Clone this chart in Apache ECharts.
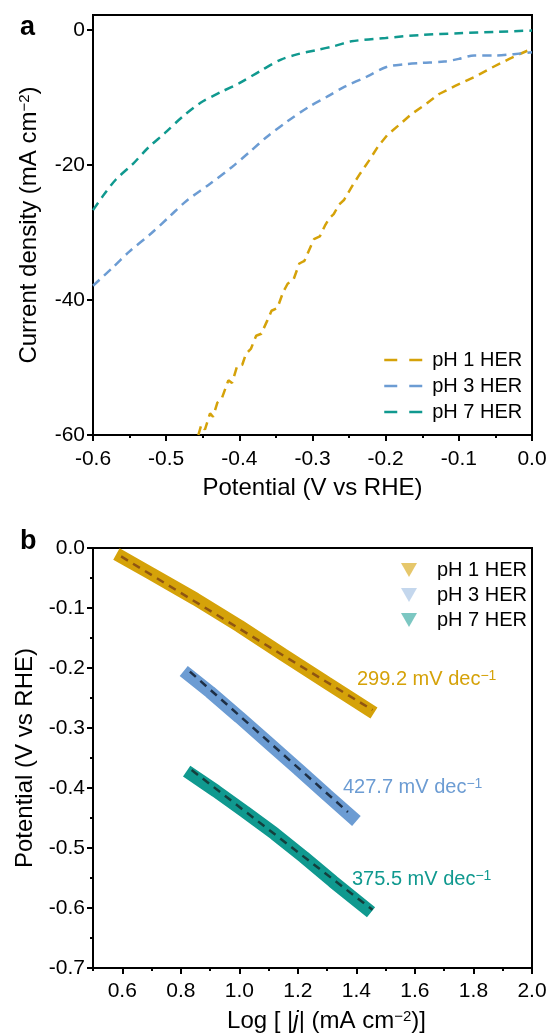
<!DOCTYPE html>
<html>
<head>
<meta charset="utf-8">
<script src="https://cdn.jsdelivr.net/npm/echarts@6/dist/echarts.min.js"></script>
<style>
html,body{margin:0;padding:0;background:#fff;}
#chart{width:552px;height:1036px;}
</style>
</head>
<body>
<div id="chart"></div>
<script>
// ---------- Panel a: LSV curves ----------
const lsvPH1X = [-0.456,-0.452,-0.447,-0.440,-0.436,-0.430,-0.424,-0.415,-0.410,-0.403,-0.396,-0.391,-0.384,-0.377,-0.370,-0.362,-0.356,-0.348,-0.340,-0.334,-0.326,-0.318,-0.311,-0.305,-0.298,-0.290,-0.283,-0.277,-0.271,-0.264,-0.257,-0.245,-0.235,-0.223,-0.210,-0.198,-0.184,-0.165,-0.145,-0.127,-0.105,-0.079,-0.055,-0.031,-0.015,0.000];
const lsvPH1Y = [-60.0,-58.5,-59.2,-56.8,-57.3,-55.2,-54.6,-51.9,-52.3,-49.8,-49.6,-48.0,-47.2,-45.3,-45.0,-43.1,-41.6,-41.2,-38.8,-37.6,-37.0,-34.6,-34.2,-32.7,-31.0,-30.6,-29.0,-27.9,-27.3,-25.9,-25.2,-23.0,-21.3,-19.4,-17.2,-15.6,-14.3,-12.5,-11.0,-9.5,-8.3,-7.0,-5.6,-4.3,-3.5,-2.8];
const lsvPH3X = [-0.600,-0.575,-0.550,-0.521,-0.495,-0.472,-0.440,-0.410,-0.385,-0.363,-0.335,-0.305,-0.280,-0.256,-0.225,-0.199,-0.175,-0.151,-0.120,-0.100,-0.079,-0.050,-0.025,0.000];
const lsvPH3Y = [-37.9,-35.4,-32.8,-30.2,-27.6,-25.3,-22.8,-20.3,-18.0,-15.9,-13.6,-11.4,-9.9,-8.4,-6.9,-5.5,-5.1,-4.9,-4.7,-4.3,-3.8,-3.8,-3.6,-3.3];
const lsvPH7X = [-0.600,-0.585,-0.569,-0.545,-0.525,-0.502,-0.478,-0.453,-0.425,-0.400,-0.370,-0.343,-0.320,-0.295,-0.270,-0.247,-0.200,-0.151,-0.100,-0.050,0.000];
const lsvPH7Y = [-26.7,-24.4,-22.2,-19.8,-17.5,-15.3,-12.9,-10.8,-9.2,-7.9,-6.0,-4.4,-3.6,-3.0,-2.4,-1.7,-1.2,-0.75,-0.5,-0.3,-0.1];

// ---------- Panel b: Tafel plots ----------
const tafelPH1X = [0.58,0.70,0.85,1.00,1.15,1.30,1.46];
const tafelPH1Y = [-0.010,-0.043,-0.085,-0.130,-0.178,-0.225,-0.275];
const tafelPH3X = [0.81,0.90,1.00,1.10,1.20,1.30,1.40];
const tafelPH3Y = [-0.205,-0.240,-0.282,-0.325,-0.368,-0.412,-0.455];
const tafelPH7X = [0.82,0.92,1.02,1.12,1.22,1.32,1.45];
const tafelPH7Y = [-0.372,-0.405,-0.440,-0.476,-0.515,-0.556,-0.607];
const fitPH1X = [0.596,1.455]; const fitPH1Y = [-0.014,-0.270];
const fitPH3X = [0.831,1.371]; const fitPH3Y = [-0.206,-0.440];
const fitPH7X = [0.837,1.455]; const fitPH7Y = [-0.370,-0.603];

const seriesNames = ['pH 1 HER','pH 3 HER','pH 7 HER'];
const slopeLabels = ['299.2 mV dec','427.7 mV dec','375.5 mV dec'];

const yTicksA = [-60,-40,-20,0];
const xTicksB = [0.6,0.8,1.0,1.2,1.4,1.6,1.8,2.0];
const xMinorB = [0.5,0.7,0.9,1.1,1.3,1.5,1.7,1.9];

const C_GOLD = '#D5A209', C_BLUE = '#6C9CD3', C_TEAL = '#10998F';
const F = 'Liberation Sans, Arial, Helvetica, sans-serif';
const zip = (xs, ys) => xs.map((x, i) => [x, ys[i]]);

const axisLine = {show:true, onZero:false, lineStyle:{color:'#000', width:2}};
const tickStyle = {color:'#000', width:2};
const labelStyle = {fontSize:21, color:'#000', fontFamily:F};
const nameStyle = {fontSize:24, color:'#000', fontFamily:F,
  rich:{sup:{fontSize:15, verticalAlign:'top', fontFamily:F, color:'#000'},
        it:{fontSize:24, fontStyle:'italic', fontFamily:F, color:'#000'}}};

const chart = echarts.init(document.getElementById('chart'), null, {renderer:'canvas'});
const option = {
  backgroundColor:'#fff',
  animation:false,
  grid:[
    {left:93, top:15, width:439, height:420, show:true, borderColor:'#000', borderWidth:2, backgroundColor:'transparent'},
    {left:93, top:548, width:439, height:420, show:true, borderColor:'#000', borderWidth:2, backgroundColor:'transparent'}
  ],
  xAxis:[
    {gridIndex:0, type:'value', min:-0.6, max:0, interval:0.1,
     axisLine, axisTick:{length:6, lineStyle:tickStyle},
     minorTick:{show:true, splitNumber:2, length:3, lineStyle:tickStyle},
     splitLine:{show:false},
     axisLabel:Object.assign({margin:14, formatter:v=>v.toFixed(1)}, labelStyle),
     name:'Potential (V vs RHE)', nameLocation:'middle', nameGap:41, nameTextStyle:nameStyle},
    {gridIndex:1, type:'value', min:0.5, max:2.0, interval:0.1,
     axisLine, axisTick:{length:6, lineStyle:tickStyle, customValues:xTicksB},
     splitLine:{show:false},
     axisLabel:Object.assign({margin:13, customValues:xTicksB, formatter:v=>v.toFixed(1)}, labelStyle),
     name:'Log [ |{it|j}| (mA cm{sup|−2})]', nameLocation:'middle', nameGap:41,
     nameTextStyle:Object.assign({}, nameStyle, {padding:[0,0,0,28]})},
    {gridIndex:1, type:'value', min:0.5, max:2.0, interval:0.1, position:'bottom',
     axisLine:{show:false, onZero:false}, axisLabel:{show:false}, splitLine:{show:false},
     axisTick:{length:3, lineStyle:tickStyle, customValues:xMinorB}}
  ],
  yAxis:[
    {gridIndex:0, type:'value', min:-60, max:2.2, interval:20,
     axisLine, axisTick:{length:6, lineStyle:tickStyle, customValues:yTicksA},
     splitLine:{show:false},
     axisLabel:Object.assign({margin:8, customValues:yTicksA}, labelStyle),
     name:'Current density (mA cm{sup|−2})', nameLocation:'middle', nameGap:52, nameTextStyle:nameStyle},
    {gridIndex:1, type:'value', min:-0.7, max:0, interval:0.1,
     axisLine, axisTick:{length:6, lineStyle:tickStyle},
     minorTick:{show:true, splitNumber:2, length:3, lineStyle:tickStyle},
     splitLine:{show:false},
     axisLabel:Object.assign({margin:8, formatter:v=>v.toFixed(1)}, labelStyle),
     name:'Potential (V vs RHE)', nameLocation:'middle', nameGap:56, nameTextStyle:nameStyle}
  ],
  legend:[
    {data:seriesNames, orient:'vertical', left:378, top:345, itemWidth:39, itemHeight:14, itemGap:6,
     selectedMode:false, textStyle:{fontSize:20, color:'#000', fontFamily:F, padding:[0,0,0,4]},
     itemStyle:{opacity:0}, lineStyle:{type:[13,12], width:2.5}},
    {data:[
       {name:seriesNames[0]+' (Tafel)', itemStyle:{color:'rgba(213,162,9,0.6)'}},
       {name:seriesNames[1]+' (Tafel)', itemStyle:{color:'rgba(108,156,211,0.4)'}},
       {name:seriesNames[2]+' (Tafel)', itemStyle:{color:'rgba(16,153,143,0.55)'}}],
     icon:'path://M0,0 L16,0 L8,14 Z',
     orient:'vertical', left:396, top:555, itemWidth:16, itemHeight:14, itemGap:5,
     selectedMode:false, formatter:n=>n.replace(' (Tafel)',''),
     textStyle:{fontSize:20, color:'#000', fontFamily:F, padding:[0,0,0,15]}}
  ],
  series:[
    {name:seriesNames[0], type:'line', xAxisIndex:0, yAxisIndex:0, data:zip(lsvPH1X, lsvPH1Y), symbol:'none', color:C_GOLD,
     lineStyle:{color:C_GOLD, width:2.5, type:[9,6]}},
    {name:seriesNames[1], type:'line', xAxisIndex:0, yAxisIndex:0, data:zip(lsvPH3X, lsvPH3Y), symbol:'none', color:C_BLUE,
     smooth:0.3, lineStyle:{color:C_BLUE, width:2.5, type:[9,6]}},
    {name:seriesNames[2], type:'line', xAxisIndex:0, yAxisIndex:0, data:zip(lsvPH7X, lsvPH7Y), symbol:'none', color:C_TEAL,
     smooth:0.3, lineStyle:{color:C_TEAL, width:2.5, type:[9,6]}},

    {name:seriesNames[0]+' (Tafel)', type:'line', xAxisIndex:1, yAxisIndex:1, data:zip(tafelPH1X, tafelPH1Y), symbol:'none', color:C_GOLD,
     lineStyle:{color:C_GOLD, width:13}},
    {name:seriesNames[1]+' (Tafel)', type:'line', xAxisIndex:1, yAxisIndex:1, data:zip(tafelPH3X, tafelPH3Y), symbol:'none', color:C_BLUE,
     lineStyle:{color:C_BLUE, width:13}},
    {name:seriesNames[2]+' (Tafel)', type:'line', xAxisIndex:1, yAxisIndex:1, data:zip(tafelPH7X, tafelPH7Y), symbol:'none', color:C_TEAL,
     lineStyle:{color:C_TEAL, width:13}},

    {name:'fit1', type:'line', xAxisIndex:1, yAxisIndex:1, data:zip(fitPH1X, fitPH1Y), symbol:'none', z:5,
     lineStyle:{color:'#8F5512', width:2.5, type:[8,6]}},
    {name:'fit3', type:'line', xAxisIndex:1, yAxisIndex:1, data:zip(fitPH3X, fitPH3Y), symbol:'none', z:5,
     lineStyle:{color:'#1E2F45', width:2.5, type:[8,6]}},
    {name:'fit7', type:'line', xAxisIndex:1, yAxisIndex:1, data:zip(fitPH7X, fitPH7Y), symbol:'none', z:5,
     lineStyle:{color:'#143F3D', width:2.5, type:[8,6]}}
  ],
  graphic:[
    {type:'text', left:20, top:14, style:{text:'a', fontSize:27, fontWeight:'bold', fontFamily:F, fill:'#000'}},
    {type:'text', left:20, top:528, style:{text:'b', fontSize:27, fontWeight:'bold', fontFamily:F, fill:'#000'}},
    {type:'text', left:357, top:669, style:{text:slopeLabels[0]+'{s|−1}', fontSize:20, fontFamily:F, fill:C_GOLD,
      rich:{s:{fontSize:14, verticalAlign:'top', fill:C_GOLD, fontFamily:F}}}},
    {type:'text', left:343, top:777, style:{text:slopeLabels[1]+'{s|−1}', fontSize:20, fontFamily:F, fill:C_BLUE,
      rich:{s:{fontSize:14, verticalAlign:'top', fill:C_BLUE, fontFamily:F}}}},
    {type:'text', left:352, top:869, style:{text:slopeLabels[2]+'{s|−1}', fontSize:20, fontFamily:F, fill:C_TEAL,
      rich:{s:{fontSize:14, verticalAlign:'top', fill:C_TEAL, fontFamily:F}}}}
  ]
};
chart.setOption(option);
</script>
</body>
</html>
